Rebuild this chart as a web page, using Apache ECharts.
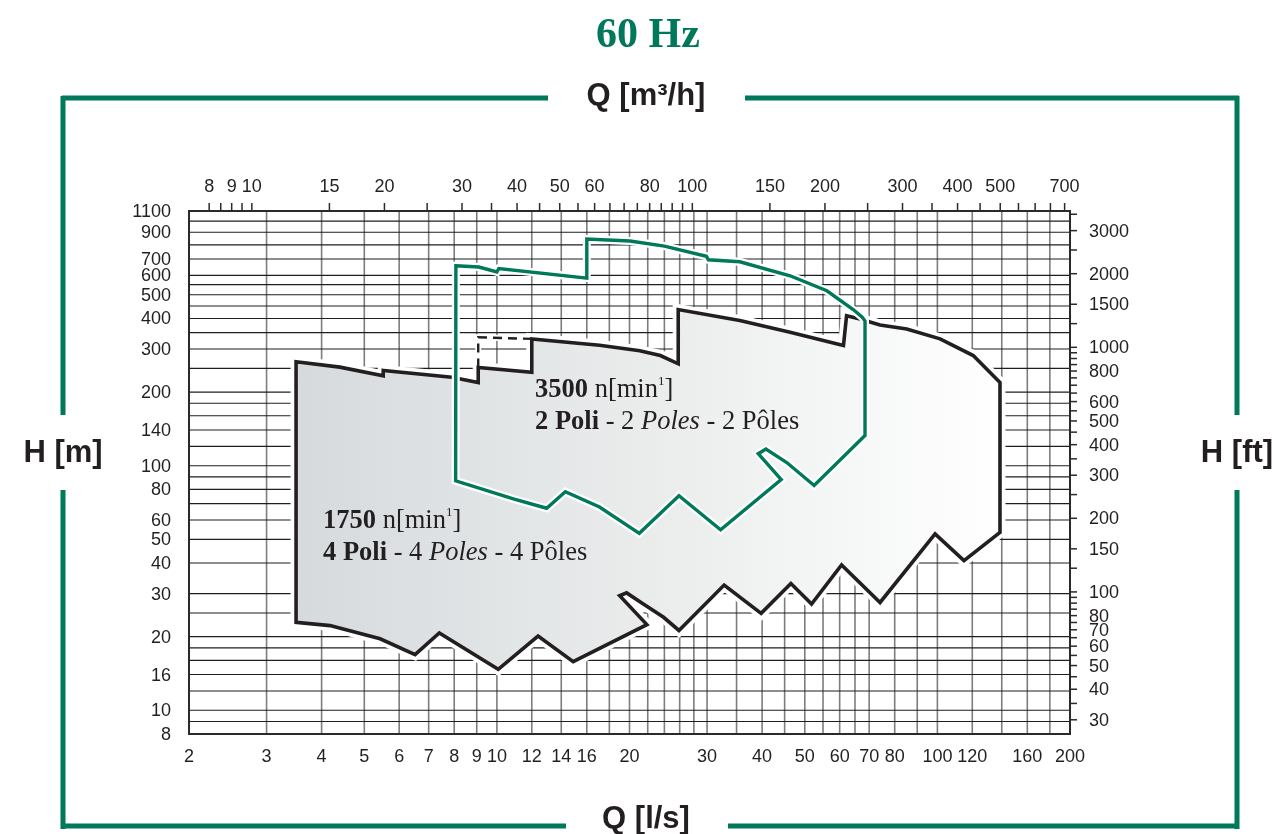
<!DOCTYPE html>
<html><head><meta charset="utf-8">
<script src="https://cdn.jsdelivr.net/npm/echarts@6.0.0/dist/echarts.min.js"></script>
<style>html,body{margin:0;padding:0;background:#fff}#c{width:1272px;height:834px}</style>
</head><body><div id="c"></div>
<script>
// ---------- axis ranges ----------
const Q_MIN = 2, Q_MAX = 200;      // l/s
const H_MIN = 8, H_MAX = 1100;     // m
const M3H_PER_LS = 3.6;
const FT_PER_M = 1 / 0.3048;

// ---------- grid lines ----------
const gridQ = [2,3,4,5,6,7,8,9,10,12,14,16,18,20,22,24,26,28,30,35,40,45,50,55,60,65,70,80,90,100,120,140,160,180,200];
const gridH = [8,9,10,12,14,16,18,20,25,30,40,50,60,70,80,90,100,120,140,160,180,200,250,300,350,400,450,500,550,600,700,800,900,1000,1100];

// ---------- tick labels ----------
const bottomLabels = [2,3,4,5,6,7,8,9,10,12,14,16,20,30,40,50,60,70,80,100,120,160,200];
const leftLabelValues = [1100,900,700,600,500,400,300,200,140,100,80,60,50,40,30,20,14,10,8];
const leftLabelTexts  = ['1100','900','700','600','500','400','300','200','140','100','80','60','50','40','30','20','16','10','8'];
const topTicks = [8,8.5,9,9.5,10,15,20,25,30,35,40,45,50,55,60,65,70,75,80,85,90,95,100,150,200,250,300,350,400,450,500,550,600,650,700];
const topLabels = [8,9,10,15,20,30,40,50,60,80,100,150,200,300,400,500,700];
const rightTicks = [30,35,40,45,50,55,60,65,70,75,80,85,90,95,100,125,150,200,250,300,350,400,450,500,550,600,650,700,750,800,850,900,950,1000,1250,1500,2000,2500,3000,3500];
const rightLabels = [3000,2000,1500,1000,800,600,500,400,300,200,150,100,80,70,60,50,40,30];

// ---------- envelopes [Q l/s, H m] ----------
const envelope4p = [
  [3.5,266],[4.4,253],[5.52,233],[5.52,245],[7.9,230],[9.07,219],[9.07,252],[12.0,241],[12.0,330],
  [17.1,311],[21.1,295],[23.5,282],[25.8,261],[25.8,435],[35.6,392],[46.3,351],[61.2,310],[62.2,410],
  [66.7,398],[74.1,376],[85.2,362],[101.4,330],[120.6,282],[138.7,219],[138.7,53.4],[114.9,40.9],
  [98.8,52.6],[74.1,27.6],[60.6,39.3],[51.8,27.2],[46.5,33.0],[39.8,24.9],[32.8,32.5],[25.9,21.2],
  [23.9,24.0],[21.5,27.2],[19.7,30.2],[19.0,29.4],[21.9,22.4],[14.9,15.8],[12.4,20.1],[10.07,14.7],
  [7.4,20.7],[6.52,16.9],[5.43,19.6],[4.18,22.2],[3.5,22.9]
];
const envelope4pDashed = [[9.07,252],[9.07,335],[12.0,330]];
const envelope2p = [
  [8.07,657],[9.1,649],[10.0,620],[10.1,640],[16.0,585],[16.0,845],[20.05,829],[24,790],[29.9,718],
  [30.2,695],[35.6,682],[46.3,598],[56.1,519],[64.4,435],[67.5,405],[68.5,390],[68.5,133],[52.5,83],
  [45.5,103],[40.8,117],[39.2,112],[44.2,87.7],[32.2,54.7],[25.9,75.4],[21.05,52.9],[17.1,67.8],
  [14.3,78.3],[12.97,67],[10.9,73.1],[8.06,86.8]
];

// ---------- styling ----------
const INK = '#231f20', GREEN = '#00785a';
const SANS = '"Liberation Sans", Arial, sans-serif';
const SERIF = '"Liberation Serif", "Times New Roman", serif';
const LABEL_FONT = '18px ' + SANS;
const ANN = 26.5;

function txt(x, y, text, align, vAlign, font, fill) {
  return { type: 'text', x: x, y: y, style: { text: text, align: align, verticalAlign: vAlign,
    textAlign: align, textVerticalAlign: vAlign, font: font, fill: fill } };
}
function centerText(x, y, text, font, fill) {
  return { type: 'text', z: 10, x: x, y: y, style: { text: text, font: font, fill: fill,
    align: 'center', verticalAlign: 'middle', textAlign: 'center', textVerticalAlign: 'middle' } };
}
function annotation(x, y, text) {
  return { type: 'text', z: 20, x: x, y: y, style: { text: text, font: ANN + 'px ' + SERIF, fill: INK,
    verticalAlign: 'middle', textVerticalAlign: 'middle',
    rich: {
      b: { font: 'bold ' + ANN + 'px ' + SERIF, fill: INK, lineHeight: 30 },
      r: { font: ANN + 'px ' + SERIF, fill: INK, lineHeight: 30 },
      i: { font: 'italic ' + ANN + 'px ' + SERIF, fill: INK, lineHeight: 30 },
      s: { font: '13px ' + SERIF, fill: INK, verticalAlign: 'top', lineHeight: 26 }
    } } };
}

const chart = echarts.init(document.getElementById('c'));
const hidden = { axisLine:{show:false}, axisTick:{show:false}, axisLabel:{show:false}, splitLine:{show:false} };

const option = {
  animation: false,
  grid: { left: 189, right: 202, top: 211, bottom: 100 },
  xAxis: [
    Object.assign({ type: 'log', logBase: 10, min: Q_MIN, max: Q_MAX, position: 'bottom' }, hidden),
    Object.assign({ type: 'log', logBase: 10, min: Q_MIN * M3H_PER_LS, max: Q_MAX * M3H_PER_LS, position: 'top' }, hidden)
  ],
  yAxis: [
    Object.assign({ type: 'log', logBase: 10, min: H_MIN, max: H_MAX, position: 'left' }, hidden),
    Object.assign({ type: 'log', logBase: 10, min: H_MIN * FT_PER_M, max: H_MAX * FT_PER_M, position: 'right' }, hidden)
  ],
  series: [
    // vertical grid lines
    { type: 'custom', z: 1, clip: false, xAxisIndex: 0, yAxisIndex: 0,
      data: gridQ.map(v => [v, H_MIN]),
      renderItem: (p, api) => {
        const a = api.coord([api.value(0), H_MIN]), b = api.coord([api.value(0), H_MAX]);
        return { type: 'line', shape: { x1: a[0], y1: a[1], x2: b[0], y2: b[1] }, style: { stroke: '#7d7d7d', lineWidth: 1.6 } };
      } },
    // horizontal grid lines
    { type: 'custom', z: 1, clip: false, xAxisIndex: 0, yAxisIndex: 0,
      data: gridH.map(v => [Q_MIN, v]),
      renderItem: (p, api) => {
        const a = api.coord([Q_MIN, api.value(1)]), b = api.coord([Q_MAX, api.value(1)]);
        return { type: 'line', shape: { x1: a[0], y1: a[1], x2: b[0], y2: b[1] }, style: { stroke: '#1e1e1e', lineWidth: 1.1 } };
      } },
    // frame
    { type: 'custom', z: 2, clip: false, xAxisIndex: 0, yAxisIndex: 0,
      data: [[Q_MIN, H_MIN]],
      renderItem: (p, api) => {
        const a = api.coord([Q_MIN, H_MAX]), b = api.coord([Q_MAX, H_MIN]);
        return { type: 'rect', shape: { x: a[0], y: a[1], width: b[0] - a[0], height: b[1] - a[1] },
          style: { fill: null, stroke: '#2a2a2a', lineWidth: 2 } };
      } },
    // top ticks (m3/h)
    { type: 'custom', z: 2, clip: false, xAxisIndex: 1, yAxisIndex: 0,
      data: topTicks.map(v => [v, H_MAX]),
      renderItem: (p, api) => {
        const a = api.coord([api.value(0), H_MAX]);
        return { type: 'line', shape: { x1: a[0], y1: a[1], x2: a[0], y2: a[1] - 8 }, style: { stroke: '#2a2a2a', lineWidth: 1.5 } };
      } },
    // right ticks (ft)
    { type: 'custom', z: 2, clip: false, xAxisIndex: 0, yAxisIndex: 1,
      data: rightTicks.map(v => [Q_MAX, v]),
      renderItem: (p, api) => {
        const a = api.coord([Q_MAX, api.value(1)]);
        return { type: 'line', shape: { x1: a[0], y1: a[1], x2: a[0] + 7, y2: a[1] }, style: { stroke: '#2a2a2a', lineWidth: 1.5 } };
      } },
    // bottom labels
    { type: 'custom', z: 3, clip: false, xAxisIndex: 0, yAxisIndex: 0,
      data: bottomLabels.map(v => [v, H_MIN]),
      renderItem: (p, api) => {
        const a = api.coord([api.value(0), H_MIN]);
        return txt(a[0], a[1] + 23, String(bottomLabels[p.dataIndex]), 'center', 'middle', LABEL_FONT, INK);
      } },
    // left labels
    { type: 'custom', z: 3, clip: false, xAxisIndex: 0, yAxisIndex: 0,
      data: leftLabelValues.map(v => [Q_MIN, v]),
      renderItem: (p, api) => {
        const a = api.coord([Q_MIN, api.value(1)]);
        return txt(a[0] - 18, a[1] + 1, leftLabelTexts[p.dataIndex], 'right', 'middle', LABEL_FONT, INK);
      } },
    // top labels
    { type: 'custom', z: 3, clip: false, xAxisIndex: 1, yAxisIndex: 0,
      data: topLabels.map(v => [v, H_MAX]),
      renderItem: (p, api) => {
        const a = api.coord([api.value(0), H_MAX]);
        return txt(a[0], a[1] - 24, String(topLabels[p.dataIndex]), 'center', 'middle', LABEL_FONT, INK);
      } },
    // right labels
    { type: 'custom', z: 3, clip: false, xAxisIndex: 0, yAxisIndex: 1,
      data: rightLabels.map(v => [Q_MAX, v]),
      renderItem: (p, api) => {
        const a = api.coord([Q_MAX, api.value(1)]);
        return txt(a[0] + 19, a[1] + 1, String(rightLabels[p.dataIndex]), 'left', 'middle', LABEL_FONT, INK);
      } },
    // 4-pole envelope (filled)
    { type: 'custom', z: 5, clip: false, xAxisIndex: 0, yAxisIndex: 0,
      data: [envelope4p[0]],
      renderItem: (p, api) => {
        const pts = envelope4p.map(d => api.coord(d));
        const dash = envelope4pDashed.map(d => api.coord(d));
        const x0 = api.coord([3.5, 100])[0], x1 = api.coord([140, 100])[0];
        const grad = new echarts.graphic.LinearGradient(x0, 0, x1, 0, [
          { offset: 0, color: '#d6dadd' }, { offset: 0.5, color: '#eaecec' }, { offset: 1, color: '#ffffff' }
        ], true);
        return { type: 'group', children: [
          { type: 'polygon', shape: { points: pts }, style: { fill: null, stroke: '#ffffff', lineWidth: 11, lineJoin: 'miter' } },
          { type: 'polyline', shape: { points: dash }, style: { fill: null, stroke: '#ffffff', lineWidth: 6 } },
          { type: 'polygon', shape: { points: pts }, style: { fill: grad, stroke: INK, lineWidth: 3.6, lineJoin: 'miter', miterLimit: 10 } },
          { type: 'polyline', shape: { points: dash }, style: { fill: null, stroke: INK, lineWidth: 2.4, lineDash: [9, 6] } }
        ] };
      } },
    // 2-pole envelope (outline)
    { type: 'custom', z: 6, clip: false, xAxisIndex: 0, yAxisIndex: 0,
      data: [envelope2p[0]],
      renderItem: (p, api) => {
        const pts = envelope2p.map(d => api.coord(d));
        return { type: 'group', children: [
          { type: 'polygon', shape: { points: pts }, style: { fill: null, stroke: '#ffffff', lineWidth: 8, lineJoin: 'miter' } },
          { type: 'polygon', shape: { points: pts }, style: { fill: null, stroke: GREEN, lineWidth: 3.4, lineJoin: 'miter', miterLimit: 10 } }
        ] };
      } }
  ],
  graphic: [
    centerText(648, 36, '60 Hz', 'bold 42px ' + SERIF, GREEN),
    // green outer frame
    { type: 'line', z: 10, shape: { x1: 62, y1: 98, x2: 548, y2: 98 }, style: { stroke: GREEN, lineWidth: 5 } },
    { type: 'line', z: 10, shape: { x1: 745, y1: 98, x2: 1239, y2: 98 }, style: { stroke: GREEN, lineWidth: 5 } },
    { type: 'line', z: 10, shape: { x1: 63, y1: 96, x2: 63, y2: 415 }, style: { stroke: GREEN, lineWidth: 5 } },
    { type: 'line', z: 10, shape: { x1: 63, y1: 490, x2: 63, y2: 829 }, style: { stroke: GREEN, lineWidth: 5 } },
    { type: 'line', z: 10, shape: { x1: 1237, y1: 96, x2: 1237, y2: 415 }, style: { stroke: GREEN, lineWidth: 5 } },
    { type: 'line', z: 10, shape: { x1: 1237, y1: 490, x2: 1237, y2: 829 }, style: { stroke: GREEN, lineWidth: 5 } },
    { type: 'line', z: 10, shape: { x1: 62, y1: 826, x2: 566, y2: 826 }, style: { stroke: GREEN, lineWidth: 5 } },
    { type: 'line', z: 10, shape: { x1: 728, y1: 826, x2: 1239, y2: 826 }, style: { stroke: GREEN, lineWidth: 5 } },
    // axis titles
    centerText(646, 96, 'Q [m³/h]', 'bold 31px ' + SANS, INK),
    centerText(646, 819, 'Q [l/s]', 'bold 31px ' + SANS, INK),
    centerText(63, 453, 'H [m]', 'bold 31px ' + SANS, INK),
    centerText(1237, 453, 'H [ft]', 'bold 31px ' + SANS, INK),
    // annotations
    annotation(535, 390, '{b|3500} {r|n[min}{s|1}{r|]}'),
    annotation(535, 422, '{b|2 Poli} {r|- 2 }{i|Poles}{r| - 2 Pôles}'),
    annotation(323, 521, '{b|1750} {r|n[min}{s|1}{r|]}'),
    annotation(323, 553, '{b|4 Poli} {r|- 4 }{i|Poles}{r| - 4 Pôles}')
  ]
};
chart.setOption(option);
</script>
</body></html>
